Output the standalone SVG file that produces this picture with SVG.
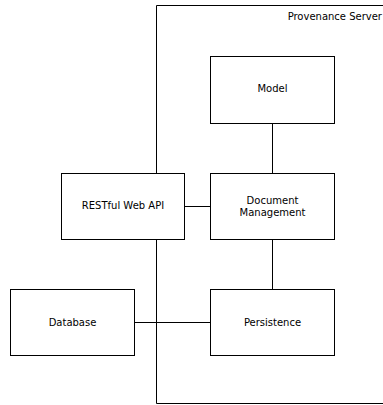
<svg xmlns="http://www.w3.org/2000/svg" width="383" height="405" viewBox="0 0 383 405">
  <style>
    .box { fill: #ffffff; stroke: #000000; stroke-width: 1; }
    .frame { fill: none; stroke: #000000; stroke-width: 1; }
    .link { fill: none; stroke: #000000; stroke-width: 1; }
    .label { font-family: "DejaVu Sans", sans-serif; font-size: 10px; fill: #000000; text-anchor: middle; }
    .title { font-family: "DejaVu Sans", sans-serif; font-size: 10px; fill: #000000; text-anchor: end; }
  </style>
  <rect width="383" height="405" fill="#ffffff"/>

  <!-- Provenance Server container (extends past right edge) -->
  <g id="provenance-server">
    <path class="frame" d="M390.5,5.5 H156.5 V403.5 H390.5"/>
    <text class="title" x="382" y="20">Provenance Server</text>
  </g>

  <g id="connectors">
    <line class="link" x1="272.5" y1="123" x2="272.5" y2="173"/>
    <line class="link" x1="185" y1="206.5" x2="210" y2="206.5"/>
    <line class="link" x1="272.5" y1="239" x2="272.5" y2="289"/>
    <line class="link" x1="135" y1="322.5" x2="210" y2="322.5"/>
  </g>

  <g id="model">
    <rect class="box" x="210.5" y="56.5" width="124" height="67"/>
    <text class="label" x="272.5" y="92">Model</text>
  </g>

  <g id="restful-web-api">
    <rect class="box" x="61.5" y="173.5" width="123" height="66"/>
    <text class="label" x="123" y="209">RESTful Web API</text>
  </g>

  <g id="document-management">
    <rect class="box" x="210.5" y="173.5" width="124" height="66"/>
    <text class="label" x="272.5" y="203.5">Document</text>
    <text class="label" x="272.5" y="215.5">Management</text>
  </g>

  <g id="database">
    <rect class="box" x="10.5" y="289.5" width="124" height="66"/>
    <text class="label" x="72.5" y="325.5">Database</text>
  </g>

  <g id="persistence">
    <rect class="box" x="210.5" y="289.5" width="124" height="66"/>
    <text class="label" x="272.5" y="325.5">Persistence</text>
  </g>
</svg>
